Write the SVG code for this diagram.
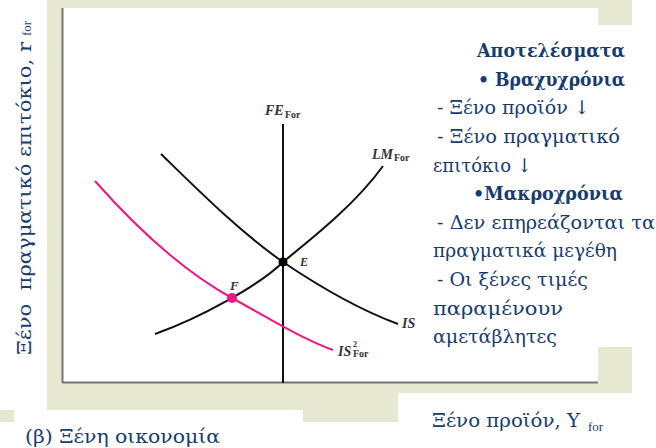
<svg xmlns="http://www.w3.org/2000/svg" width="656" height="448" viewBox="0 0 656 448">
<style>
.txt{font-family:"DejaVu Serif","Liberation Serif","Times New Roman",serif;fill:#173c6e;font-size:19px}
.sm{font-family:"Liberation Serif","DejaVu Serif",serif;fill:#173c6e;font-size:13px}
.b{font-weight:bold}
.lab{font-family:"Liberation Serif","Times New Roman",serif;font-weight:bold;font-style:italic;fill:#333}
.sub{font-style:normal}
.curve{fill:none;stroke:#111;stroke-width:2}
.pink{fill:none;stroke:#ee1680;stroke-width:2}
</style>
<g id="background">
<rect x="0" y="0" width="632" height="422" fill="#e7e8d2"/>
<rect x="0" y="0" width="47" height="410" fill="#fff"/>
<rect x="14" y="410" width="289" height="38" fill="#fff"/>
<rect x="398" y="393" width="258" height="55" fill="#fff"/>
</g>
<g id="plot-frame">
<rect x="62" y="8" width="536" height="374" fill="#fff"/>
<line x1="62.5" y1="8" x2="62.5" y2="383" stroke="#777" stroke-width="2"/>
<line x1="62" y1="382.5" x2="598" y2="382.5" stroke="#777" stroke-width="2"/>
</g>
<g id="connectors">
<line id="FE" x1="283" y1="124" x2="283" y2="383" stroke="#111" stroke-width="2"/>
<path id="LM" class="curve" d="M155 334 C200 318 260 285 283 262 C310 240 355 205 383 166"/>
<path id="IS" class="curve" d="M161 154 C200 192 240 232 283 262 C320 287 360 310 398 324"/>
<path id="IS2" class="pink" d="M95 181 C140 232 185 272 232 298 C265 316 300 338 333 350"/>
</g>
<g id="point-E">
<circle cx="283" cy="262" r="4.5" fill="#000"/>
<text class="lab" x="300" y="266" font-size="12" fill="#555">E</text>
</g>
<g id="point-F">
<circle cx="232" cy="298" r="5" fill="#ee1680"/>
<text class="lab" x="230" y="290" font-size="13">F</text>
</g>
<g id="label-FE">
<text class="lab" x="265" y="115" font-size="14">FE<tspan class="sub" x="285" y="118" font-size="10">For</tspan></text>
</g>
<g id="label-LM">
<text class="lab" x="372" y="159" font-size="14">LM<tspan class="sub" x="394" y="161" font-size="10">For</tspan></text>
</g>
<g id="label-IS">
<text class="lab" x="402" y="328" font-size="14">IS</text>
</g>
<g id="label-IS2">
<text class="lab" x="338" y="356" font-size="14">IS<tspan class="sub" x="353" y="347" font-size="8">2</tspan><tspan class="sub" x="353" y="357" font-size="10">For</tspan></text>
</g>
<g id="textbox">
<rect x="415" y="25" width="241" height="322" fill="#fff"/>
<text class="txt b" x="477" y="57" textLength="148" lengthAdjust="spacingAndGlyphs">Αποτελέσματα</text>
<text class="txt b" x="478" y="86" textLength="147" lengthAdjust="spacingAndGlyphs">• Βραχυχρόνια</text>
<text class="txt" x="437" y="114" textLength="153" lengthAdjust="spacingAndGlyphs">- Ξένο προϊόν ↓</text>
<text class="txt" x="437" y="143" textLength="183" lengthAdjust="spacingAndGlyphs">- Ξένο πραγματικό</text>
<text class="txt" x="433" y="172" textLength="99" lengthAdjust="spacingAndGlyphs">επιτόκιο ↓</text>
<text class="txt b" x="473" y="200" textLength="150" lengthAdjust="spacingAndGlyphs">•Μακροχρόνια</text>
<text class="txt" x="437" y="229" textLength="218" lengthAdjust="spacingAndGlyphs">- Δεν επηρεάζονται τα</text>
<text class="txt" x="433" y="257" textLength="184" lengthAdjust="spacingAndGlyphs">πραγματικά μεγέθη</text>
<text class="txt" x="437" y="286" textLength="151" lengthAdjust="spacingAndGlyphs">- Οι ξένες τιμές</text>
<text class="txt" x="433" y="315" textLength="130" lengthAdjust="spacingAndGlyphs">παραμένουν</text>
<text class="txt" x="433" y="343" textLength="124" lengthAdjust="spacingAndGlyphs">αμετάβλητες</text>
</g>
<g id="axis-y">
<text class="txt" transform="translate(31,355) rotate(-90)" textLength="313" lengthAdjust="spacingAndGlyphs" xml:space="preserve">Ξένο  πραγματικό επιτόκιο, r</text>
<text class="sm" transform="translate(31,36) rotate(-90)">for</text>
</g>
<g id="axis-x">
<text class="txt" x="432" y="427" textLength="148" lengthAdjust="spacingAndGlyphs">Ξένο προϊόν, Y</text>
<text class="sm" x="588" y="431">for</text>
</g>
<g id="caption">
<text class="txt" x="25" y="443" textLength="195" lengthAdjust="spacingAndGlyphs">(β) Ξένη οικονομία</text>
</g>
</svg>
